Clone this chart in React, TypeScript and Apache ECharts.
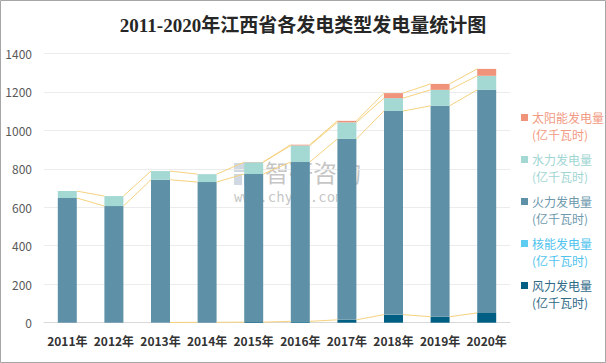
import React, { useEffect, useRef } from "react";
import * as echarts from "echarts";

const years = ["2011年", "2012年", "2013年", "2014年", "2015年", "2016年", "2017年", "2018年", "2019年", "2020年"];
const windPower: (number | null)[] = [null, null, 1, 2, 3, 7, 15, 42, 31, 51];
const nuclearPower: (number | null)[] = [null, null, null, null, null, null, null, null, null, null];
const thermalPower: number[] = [648, 606, 742, 729, 770, 828, 940, 1058, 1096, 1159];
const hydroPower: number[] = [36, 52, 45, 41, 61, 86, 86, 67, 83, 73];
const solarPower: (number | null)[] = [null, null, null, null, 1, 4, 8, 26, 31, 36];
const yTicks = [0, 200, 400, 600, 800, 1000, 1200, 1400];

const names = {
  solar: "太阳能发电量\n(亿千瓦时)",
  hydro: "水力发电量\n(亿千瓦时)",
  thermal: "火力发电量\n(亿千瓦时)",
  nuclear: "核能发电量\n(亿千瓦时)",
  wind: "风力发电量\n(亿千瓦时)",
};
const colors = {
  solar: "#F0937B",
  hydro: "#A3D8D3",
  thermal: "#5E91A8",
  nuclear: "#5ECBF0",
  wind: "#005F82",
};
const textColors = {
  solar: "#F29A84",
  hydro: "#9FD6D2",
  thermal: "#6D98AD",
  nuclear: "#4FC3EE",
  wind: "#2F6A87",
};

export default function App() {
  const ref = useRef<HTMLDivElement>(null);
  useEffect(() => {
    document.body.style.margin = "0";
    const chart = echarts.init(ref.current!, null, { renderer: "svg" });
    const n = years.length;
    const v = (x: number | null) => (x == null ? 0 : x);
    const windTop = windPower.map((w) => (w == null ? null : w));
    const thermalTop = thermalPower.map((t, i) => t + v(windPower[i]) + v(nuclearPower[i]));
    const hydroTop = hydroPower.map((h, i) => h + thermalTop[i]);
    const solarTop = solarPower.map((s, i) => (s == null ? null : s + hydroTop[i]));
    const levels = [windTop, thermalTop, hydroTop, solarTop];
    const lineData: any[] = [];
    for (let i = 0; i < n - 1; i++) {
      const item: any[] = [i];
      levels.forEach((lv) => {
        item.push(lv[i] == null ? NaN : lv[i]);
        item.push(lv[i + 1] == null ? NaN : lv[i + 1]);
      });
      lineData.push(item);
    }
    const halfBar = 9.5;
    const iconPath = "path://M0,0M0,5L7,5L7,12L0,12Z M0,34";
    const legendKeys = ["solar", "hydro", "thermal", "nuclear", "wind"] as const;

    chart.setOption({
      animation: false,
      backgroundColor: "#ffffff",
      title: {
        text: "2011-2020年江西省各发电类型发电量统计图",
        left: "center",
        top: 11,
        textStyle: {
          fontFamily: "'Liberation Serif', 'Noto Sans CJK SC', serif",
          fontSize: 19,
          fontWeight: "bold",
          color: "#262626",
        },
      },
      grid: { left: 44, right: 96, top: 53.3, bottom: 40.3 },
      legend: {
        orient: "vertical",
        left: 516,
        top: 104,
        itemWidth: 7,
        itemHeight: 34,
        itemGap: 8,
        icon: iconPath,
        data: legendKeys.map((k) => ({
          name: names[k],
          icon: iconPath,
          textStyle: { color: textColors[k] },
        })),
        textStyle: {
          fontFamily: "'Noto Sans CJK SC', sans-serif",
          fontSize: 12,
          lineHeight: 17,
          padding: [0, 0, 0, -1],
        },
        selectedMode: false,
      },
      xAxis: {
        type: "category",
        data: years,
        axisTick: { show: false },
        axisLine: { lineStyle: { color: "#d9d9d9", width: 1 } },
        axisLabel: {
          interval: 0,
          color: "#333333",
          fontSize: 12,
          fontWeight: "bold",
          fontFamily: "'Noto Sans CJK SC', sans-serif",
          margin: 12,
        },
      },
      yAxis: {
        type: "value",
        min: yTicks[0],
        max: yTicks[yTicks.length - 1],
        interval: 200,
        axisLine: { show: false },
        axisTick: { show: false },
        splitLine: { lineStyle: { color: "#ececec", width: 1 } },
        axisLabel: {
          color: "#595959",
          fontSize: 12,
          fontFamily: "'Noto Sans CJK SC', sans-serif",
          margin: 12,
          formatter: (val: number) => String(val),
        },
      },
      series: [
        {
          name: names.wind,
          type: "bar",
          stack: "total",
          barWidth: 19,
          data: windPower,
          itemStyle: { color: colors.wind },
        },
        {
          name: names.nuclear,
          type: "bar",
          stack: "total",
          barWidth: 19,
          data: nuclearPower,
          itemStyle: { color: colors.nuclear },
        },
        {
          name: names.thermal,
          type: "bar",
          stack: "total",
          barWidth: 19,
          data: thermalPower,
          itemStyle: { color: colors.thermal },
        },
        {
          name: names.hydro,
          type: "bar",
          stack: "total",
          barWidth: 19,
          data: hydroPower,
          itemStyle: { color: colors.hydro },
        },
        {
          name: names.solar,
          type: "bar",
          stack: "total",
          barWidth: 19,
          data: solarPower,
          itemStyle: { color: colors.solar },
        },
        {
          name: "seriesLines",
          type: "custom",
          silent: true,
          z: 5,
          encode: { x: 0, y: 1 },
          data: lineData,
          renderItem: (params: any, api: any) => {
            const i = api.value(0);
            const children: any[] = [];
            for (let k = 0; k < 4; k++) {
              const a = api.value(1 + k * 2);
              const b = api.value(2 + k * 2);
              if (!isFinite(a) || !isFinite(b)) continue;
              const p0 = api.coord([i, a]);
              const p1 = api.coord([i + 1, b]);
              children.push({
                type: "line",
                shape: { x1: p0[0] + halfBar, y1: p0[1], x2: p1[0] - halfBar, y2: p1[1] },
                style: { stroke: "#F6D27F", lineWidth: 1 },
              });
            }
            return { type: "group", children };
          },
        },
      ],
      graphic: [
        {
          type: "rect",
          silent: true,
          shape: { x: 0.5, y: 0.5, width: 605, height: 362 },
          style: { fill: "none", stroke: "#a6a6a6", lineWidth: 1 },
          z: 100,
        },
        {
          type: "group",
          silent: true,
          z: 50,
          children: [
            { type: "rect", shape: { x: 234, y: 163, width: 12, height: 9 }, style: { fill: "rgba(150,170,190,0.45)" } },
            { type: "rect", shape: { x: 248, y: 163, width: 10, height: 9 }, style: { fill: "rgba(150,170,190,0.45)" } },
            { type: "rect", shape: { x: 234, y: 174, width: 8, height: 11 }, style: { fill: "rgba(150,170,190,0.45)" } },
            { type: "rect", shape: { x: 244, y: 174, width: 14, height: 11 }, style: { fill: "rgba(80,160,220,0.45)" } },
            {
              type: "text",
              x: 265,
              y: 159,
              style: {
                text: "智研咨询",
                fontSize: 24,
                lineHeight: 24,
                fontFamily: "'Noto Sans CJK SC', sans-serif",
                fill: "rgba(140,140,140,0.5)",
              },
            },
            {
              type: "text",
              x: 234,
              y: 191,
              style: {
                text: "www.chyxx.com",
                fontSize: 14,
                lineHeight: 12,
                fontFamily: "'DejaVu Sans Mono', monospace",
                fill: "rgba(140,140,140,0.5)",
              },
            },
          ],
        },
      ],
    });
    return () => chart.dispose();
  }, []);
  return <div ref={ref} style={{ width: 606, height: 363 }} />;
}
